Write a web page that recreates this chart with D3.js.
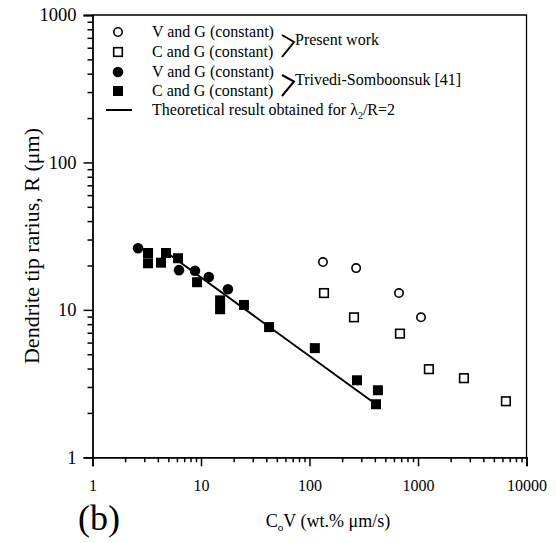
<!DOCTYPE html>
<html>
<head>
<meta charset="utf-8">
<script src="https://cdn.jsdelivr.net/npm/d3@7"></script>
<style>
  html, body { margin: 0; padding: 0; background: #fff; }
  svg { display: block; font-family: "Liberation Serif", "Times New Roman", serif; }
</style>
</head>
<body>
<svg id="chart" width="556" height="543"></svg>
<script>
// Present work: V and G held constant (open circles)
const presentVG_x = [133, 269, 668, 1066];
const presentVG_R = [21.1, 19.2, 13.0, 8.9];

// Present work: C and G held constant (open squares)
const presentCG_x = [136, 257, 682, 1260, 2650, 6460];
const presentCG_R = [13.0, 8.9, 6.9, 3.96, 3.44, 2.4];

// Trivedi-Somboonsuk [41]: V and G constant (filled circles)
const trivediVG_x = [2.63, 6.27, 8.8, 11.8, 17.7];
const trivediVG_R = [26.2, 18.6, 18.4, 16.7, 13.8];

// Trivedi-Somboonsuk [41]: C and G constant (filled squares)
const trivediCG_x = [3.25, 3.25, 4.28, 4.76, 6.14, 9.2, 15.0, 15.0, 24.9, 42.4, 112, 274, 427, 410];
const trivediCG_R = [24.3, 20.7, 20.9, 24.3, 22.4, 15.4, 11.6, 10.1, 10.8, 7.64, 5.5, 3.33, 2.85, 2.29];

// Theoretical curve for lambda2/R = 2 (straight line on log-log axes)
const theory_x = [5.0, 410];
const theory_R = [24.0, 2.29];

const xTickValues = [1, 10, 100, 1000, 10000];
const yTickValues = [1, 10, 100, 1000];

const svg = d3.select("#chart");
const plotL = 92.5, plotR = 526.5, plotT = 15, plotB = 457.3;

const x = d3.scaleLog().domain([1, 10000]).range([plotL, plotR]);
const y = d3.scaleLog().domain([1, 1000]).range([plotB, plotT]);

// minor tick values 2..9 per decade
function minors(lo, hi) {
  const out = [];
  for (let e = lo; e < hi; e++) {
    for (let m = 2; m <= 9; m++) out.push(m * Math.pow(10, e));
  }
  return out;
}

// frame (top and right edges)
svg.append("path")
  .attr("d", `M${plotL},${plotT}H${plotR}V${plotB}`)
  .attr("fill", "none").attr("stroke", "#000").attr("stroke-width", 1.3);

// x axis
const xAxis = svg.append("g").attr("transform", `translate(0,${plotB})`);
xAxis.call(d3.axisBottom(x).tickValues(xTickValues).tickSize(9).tickPadding(13)
  .tickFormat(d3.format("d")));
xAxis.append("g").call(d3.axisBottom(x).tickValues(minors(0, 4)).tickSize(5).tickFormat(""))
  .select(".domain").remove();
xAxis.selectAll("path.domain").attr("stroke-width", 1.8);
xAxis.selectAll("line").attr("stroke-width", 1.5);
xAxis.selectAll("text").attr("font-size", 16).attr("font-family", "Liberation Serif").attr("fill", "#000");

// y axis
const yAxis = svg.append("g").attr("transform", `translate(${plotL},0)`);
yAxis.call(d3.axisLeft(y).tickValues(yTickValues).tickSize(9).tickPadding(7)
  .tickFormat(d3.format("d")));
yAxis.append("g").call(d3.axisLeft(y).tickValues(minors(0, 3)).tickSize(5).tickFormat(""))
  .select(".domain").remove();
yAxis.selectAll("path.domain").attr("stroke-width", 1.8);
yAxis.selectAll("line").attr("stroke-width", 1.5);
yAxis.selectAll("text").attr("font-size", 18.5).attr("font-family", "Liberation Serif").attr("fill", "#000");

// theoretical line
svg.append("path")
  .datum(theory_x.map((v, i) => [v, theory_R[i]]))
  .attr("d", d3.line().x(d => x(d[0])).y(d => y(d[1])))
  .attr("fill", "none").attr("stroke", "#000").attr("stroke-width", 2);

const zip = (a, b) => a.map((v, i) => [v, b[i]]);

// filled squares
svg.append("g").selectAll("rect")
  .data(zip(trivediCG_x, trivediCG_R)).join("rect")
  .attr("x", d => x(d[0]) - 5).attr("y", d => y(d[1]) - 5)
  .attr("width", 10).attr("height", 10).attr("fill", "#000");

// filled circles
svg.append("g").selectAll("circle")
  .data(zip(trivediVG_x, trivediVG_R)).join("circle")
  .attr("cx", d => x(d[0])).attr("cy", d => y(d[1])).attr("r", 5.3).attr("fill", "#000");

// open circles
svg.append("g").selectAll("circle")
  .data(zip(presentVG_x, presentVG_R)).join("circle")
  .attr("cx", d => x(d[0])).attr("cy", d => y(d[1])).attr("r", 4.2)
  .attr("fill", "#fff").attr("stroke", "#000").attr("stroke-width", 1.6);

// open squares
svg.append("g").selectAll("rect")
  .data(zip(presentCG_x, presentCG_R)).join("rect")
  .attr("x", d => x(d[0]) - 4.3).attr("y", d => y(d[1]) - 4.3)
  .attr("width", 8.6).attr("height", 8.6)
  .attr("fill", "#fff").attr("stroke", "#000").attr("stroke-width", 1.6);

// legend
const legendRows = [
  { label: "V and G (constant)", type: "openCircle" },
  { label: "C and G (constant)", type: "openSquare" },
  { label: "V and G (constant)", type: "filledCircle" },
  { label: "C and G (constant)", type: "filledSquare" },
  { label: "Theoretical result obtained for ", type: "line" }
];
const rowY = [32, 52, 72, 91, 110];
const lg = svg.append("g");
legendRows.forEach((r, i) => {
  const cy = rowY[i], mx = 118;
  if (r.type === "openCircle") lg.append("circle").attr("cx", mx).attr("cy", cy).attr("r", 4.2)
    .attr("fill", "#fff").attr("stroke", "#000").attr("stroke-width", 1.6);
  if (r.type === "openSquare") lg.append("rect").attr("x", mx - 4.3).attr("y", cy - 4.3)
    .attr("width", 8.6).attr("height", 8.6).attr("fill", "#fff").attr("stroke", "#000").attr("stroke-width", 1.6);
  if (r.type === "filledCircle") lg.append("circle").attr("cx", mx).attr("cy", cy).attr("r", 5.3).attr("fill", "#000");
  if (r.type === "filledSquare") lg.append("rect").attr("x", mx - 5).attr("y", cy - 5)
    .attr("width", 10).attr("height", 10).attr("fill", "#000");
  if (r.type === "line") lg.append("line").attr("x1", 106).attr("x2", 132).attr("y1", cy).attr("y2", cy)
    .attr("stroke", "#000").attr("stroke-width", 2);
  const t = lg.append("text").attr("x", 152).attr("y", cy + 5).attr("font-size", 16).text(r.label);
  if (r.type === "line") {
    t.append("tspan").text("λ");
    t.append("tspan").attr("font-size", 10).attr("dy", 4).text("2");
    t.append("tspan").attr("dy", -4).text("/R=2");
  }
});

// group brackets
function bracket(y1, y2, label) {
  const ym = (y1 + y2) / 2;
  lg.append("path")
    .attr("d", `M282,${y1 + 3}L294,${ym}L282,${y2 + 5}`)
    .attr("fill", "none").attr("stroke", "#000").attr("stroke-width", 2);
  lg.append("text").attr("x", 295).attr("y", ym + 3).attr("font-size", 16).text(label);
}
bracket(rowY[0], rowY[1], "Present work");
bracket(rowY[2], rowY[3], "Trivedi-Somboonsuk [41]");

// axis titles
svg.append("text")
  .attr("transform", `translate(39,246) rotate(-90)`)
  .attr("text-anchor", "middle").attr("font-size", 22)
  .text("Dendrite tip rarius, R (μm)");

const xt = svg.append("text").attr("x", 328).attr("y", 527)
  .attr("text-anchor", "middle").attr("font-size", 18);
xt.append("tspan").text("C");
xt.append("tspan").attr("font-size", 11).attr("dy", 4).text("o");
xt.append("tspan").attr("dy", -4).text("V (wt.% μm/s)");

svg.append("text").attr("x", 78).attr("y", 530).attr("font-size", 36).text("(b)");
</script>
</body>
</html>
